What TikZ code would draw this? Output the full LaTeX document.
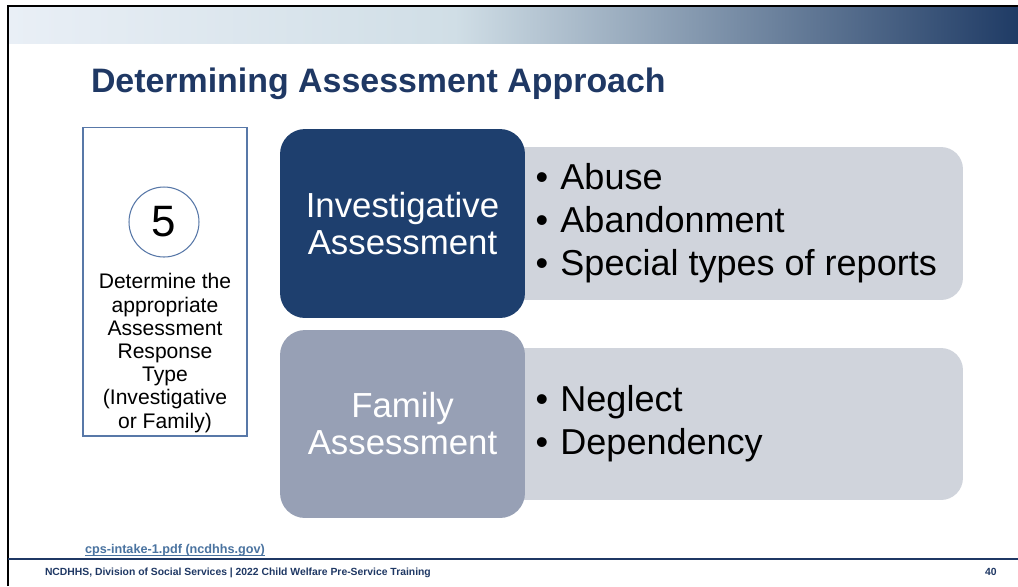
\documentclass[tikz,border=0pt]{standalone}
\usepackage{fontspec}
\setmainfont{Liberation Sans}
\usepackage{tikz}
\usetikzlibrary{positioning}
\definecolor{navy}{HTML}{1F3864}
\definecolor{invblue}{HTML}{1E3F6E}
\definecolor{famgray}{HTML}{97A0B5}
\definecolor{panelgray}{HTML}{D0D4DC}
\definecolor{stepline}{HTML}{5878A8}
\definecolor{linkblue}{HTML}{4A73A0}
\definecolor{bandlight}{HTML}{E9EFF6}
\definecolor{bandmid}{HTML}{D0DEE6}
\definecolor{banddark}{HTML}{1F3B65}
\newcommand{\bulletitem}[1]{\makebox[0.5cm][l]{\textbullet}#1}

\begin{document}
\begin{tikzpicture}[
  x=0.02cm, y=-0.02cm,
  every node/.style={inner sep=0pt, outer sep=0pt},
  headbox/.style={rounded corners=0.5cm, minimum width=4.9cm, align=center,
                  text=white, font=\fontsize{19.8}{21}\selectfont},
  panel/.style={fill=panelgray, rounded corners=0.44cm, minimum width=9.66cm},
  listtext/.style={anchor=west, align=left, font=\fontsize{20.5}{24.4}\selectfont},
  foot/.style={anchor=base west, text=navy, font=\bfseries\fontsize{5.9}{7}\selectfont}
]
  \useasboundingbox (0,0) rectangle (1018,586);
  \fill[white] (0,0) rectangle (1018,586);

  \shade[left color=bandlight, right color=bandmid] (9,7) rectangle (456,43);
  \shade[left color=bandmid, right color=banddark] (455,7) rectangle (1018,43);
  \draw[black, line width=1pt] (8,586) -- (8,6) -- (1018,6);

  \node[anchor=base west, text=navy, font=\bfseries\fontsize{19.3}{22}\selectfont]
    (title) at (91,92) {Determining Assessment Approach};

  \node[draw=stepline, line width=0.6pt, minimum width=3.28cm, minimum height=6.18cm]
    (stepbox) at (165,281.5) {};
  \node[circle, draw=stepline, line width=0.6pt, minimum size=1.4cm,
        font=\fontsize{25}{25}\selectfont] (stepnum) at (164,222) {5};
  \node[align=center, font=\fontsize{12}{13.2}\selectfont] (steptext) at (165,353)
    {Determine the\\appropriate\\Assessment\\Response\\Type\\(Investigative\\or Family)};

  \node[panel, minimum height=3.06cm] (invpanel) at (721.5,223.5) {};
  \node[headbox, fill=invblue, minimum height=3.78cm] (invbox) at (402.5,223.5)
    {Investigative\\Assessment};
  \node[listtext] (invlist) at (535.5,223.5)
    {\bulletitem{Abuse}\\\bulletitem{Abandonment}\\\bulletitem{Special types of reports}};

  \node[panel, minimum height=3.04cm] (fampanel) at (721.5,424) {};
  \node[headbox, fill=famgray, minimum height=3.76cm] (fambox) at (402.5,424)
    {Family\\Assessment};
  \node[listtext] (famlist) at (535.5,424)
    {\bulletitem{Neglect}\\\bulletitem{Dependency}};

  \node[anchor=base west, text=linkblue, font=\bfseries\fontsize{7.2}{8}\selectfont]
    (srclink) at (85,553) {cps-intake-1.pdf (ncdhhs.gov)};
  \draw[linkblue, line width=0.5pt] ([yshift=-1.2pt]srclink.base west) -- ([yshift=-1.2pt]srclink.base east);
  \draw[navy, line width=1.4pt] (8,559) -- (1018,559);
  \node[foot] (footer) at (45,575)
    {NCDHHS, Division of Social Services | 2022 Child Welfare Pre-Service Training};
  \node[foot] (pagenum) at (985,575) {40};
\end{tikzpicture}
\end{document}
